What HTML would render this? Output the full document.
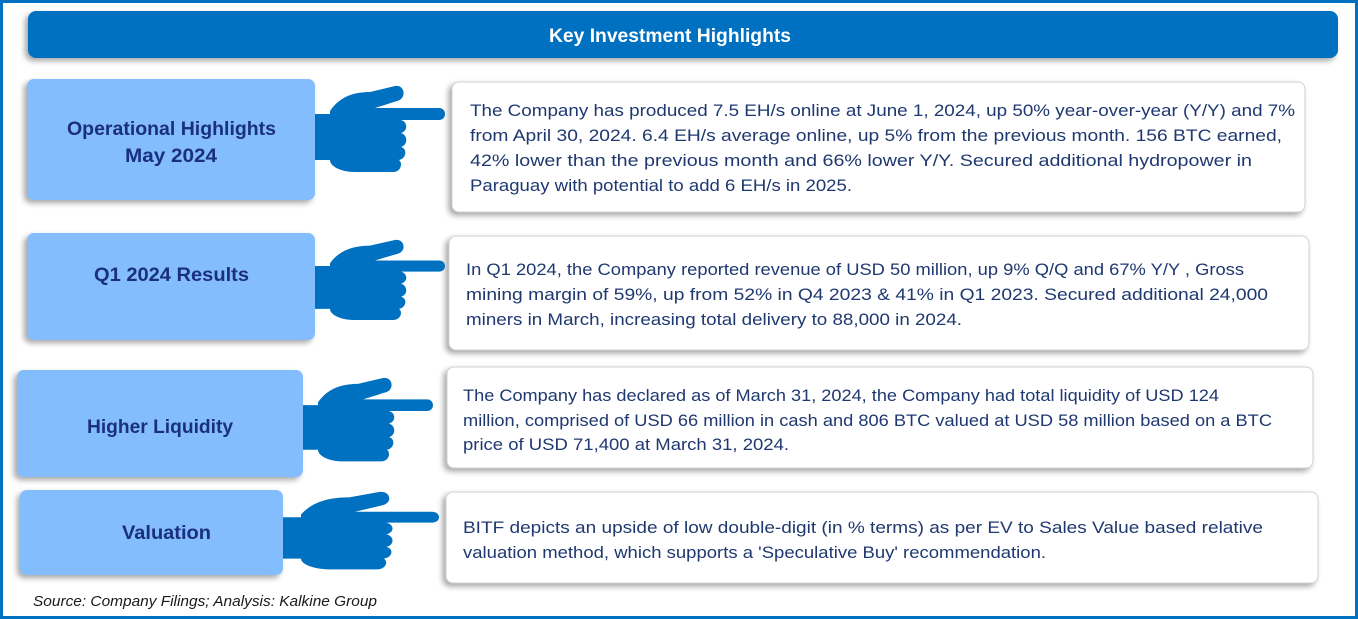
<!DOCTYPE html>
<html><head><meta charset="utf-8"><style>
html,body{margin:0;padding:0;background:#fff;}
svg{display:block;font-family:"Liberation Sans",sans-serif;}
</style></head><body>
<svg width="1358" height="619" viewBox="0 0 1358 619">
<defs>
<filter id="sh" x="-10%" y="-20%" width="120%" height="150%"><feDropShadow dx="-3" dy="3" stdDeviation="3" flood-color="#000" flood-opacity="0.35"/></filter>
<path id="hand" d="M0,28 L18,28 L18,74 L0,74 Z M15,25 C25,10 40,6 55,6 L80,0 C90,-2 92,13 82,15 L60,22 L124,22 C132,22 132,34 124,34 L86,34 C93,36 93,45 86,47 C93,49 93,59 86,61 C93,63 91,73 84,74 C88,77 86,86 78,86 L40,86 C25,86 15,80 15,74 Z" fill="#0070c0"/>
</defs>
<rect x="1.5" y="1.5" width="1355" height="616" fill="#fff" stroke="#0070c0" stroke-width="3"/>
<rect x="28" y="11" width="1310" height="47" rx="8" fill="#0070c0" filter="url(#sh)"/>
<text x="549" y="42" textLength="242" lengthAdjust="spacingAndGlyphs" fill="#fff" font-weight="bold" font-size="19">Key Investment Highlights</text>

<g fill="#83bdfd" filter="url(#sh)">
<rect x="27" y="79" width="288" height="121" rx="7"/>
<rect x="27" y="233" width="288" height="107" rx="7"/>
<rect x="17" y="370" width="286" height="107" rx="7"/>
<rect x="20" y="490" width="263" height="85" rx="7"/>
</g>
<g fill="#fff" stroke="#d0d0d0" stroke-width="1" filter="url(#sh)">
<rect x="452" y="82" width="853" height="130" rx="7"/>
<rect x="449" y="236" width="860" height="114" rx="7"/>
<rect x="447" y="367" width="866" height="101" rx="7"/>
<rect x="446" y="492" width="872" height="91" rx="7"/>
</g>

<use href="#hand" transform="translate(315,86)"/>
<use href="#hand" transform="translate(315,240) scale(1,0.93)"/>
<use href="#hand" transform="translate(303,378) scale(1,0.97)"/>
<use href="#hand" transform="translate(283,492) scale(1.2,0.9)"/>

<g fill="#1a2f80" font-weight="bold" font-size="19">
<text x="67" y="135" textLength="209" lengthAdjust="spacingAndGlyphs">Operational Highlights</text>
<text x="125" y="162" textLength="92" lengthAdjust="spacingAndGlyphs">May 2024</text>
<text x="94" y="281" textLength="155" lengthAdjust="spacingAndGlyphs">Q1 2024 Results</text>
<text x="87" y="433" textLength="146" lengthAdjust="spacingAndGlyphs">Higher Liquidity</text>
<text x="122" y="539" textLength="89" lengthAdjust="spacingAndGlyphs">Valuation</text>
</g>

<g fill="#1f3870" font-size="16.5">
<text x="470" y="116" textLength="825" lengthAdjust="spacingAndGlyphs">The Company has produced 7.5 EH/s online at June 1, 2024, up 50% year-over-year (Y/Y) and 7%</text>
<text x="470" y="141" textLength="812" lengthAdjust="spacingAndGlyphs">from April 30, 2024. 6.4 EH/s average online, up 5% from the previous month.  156 BTC earned,</text>
<text x="470" y="166" textLength="782" lengthAdjust="spacingAndGlyphs">42% lower than the previous month and 66% lower Y/Y. Secured additional hydropower in</text>
<text x="470" y="191" textLength="382" lengthAdjust="spacingAndGlyphs">Paraguay with potential to add 6 EH/s in 2025.</text>

<text x="466" y="275" textLength="778" lengthAdjust="spacingAndGlyphs">In Q1 2024, the Company reported revenue of USD 50 million, up 9% Q/Q and 67% Y/Y , Gross</text>
<text x="466" y="300" textLength="802" lengthAdjust="spacingAndGlyphs">mining margin of 59%, up from 52% in Q4 2023 &amp; 41% in Q1 2023. Secured additional 24,000</text>
<text x="466" y="325" textLength="496" lengthAdjust="spacingAndGlyphs">miners in March, increasing total delivery to 88,000 in 2024.</text>

<text x="463" y="401" textLength="756" lengthAdjust="spacingAndGlyphs">The Company has declared as of March 31, 2024, the Company had total liquidity of USD 124</text>
<text x="463" y="426" textLength="809" lengthAdjust="spacingAndGlyphs">million, comprised of USD 66 million in cash and 806 BTC valued at USD 58 million based on a BTC</text>
<text x="463" y="450" textLength="326" lengthAdjust="spacingAndGlyphs">price of USD 71,400 at March 31, 2024.</text>

<text x="463" y="533" textLength="800" lengthAdjust="spacingAndGlyphs">BITF depicts an upside of low double-digit (in % terms) as per EV to Sales Value based relative</text>
<text x="463" y="558" textLength="583" lengthAdjust="spacingAndGlyphs">valuation method, which supports a 'Speculative Buy' recommendation.</text>
</g>

<text x="33" y="606" font-style="italic" font-size="14.5" fill="#1a1a1a" textLength="344" lengthAdjust="spacingAndGlyphs">Source: Company Filings; Analysis: Kalkine Group</text>
</svg>
</body></html>
